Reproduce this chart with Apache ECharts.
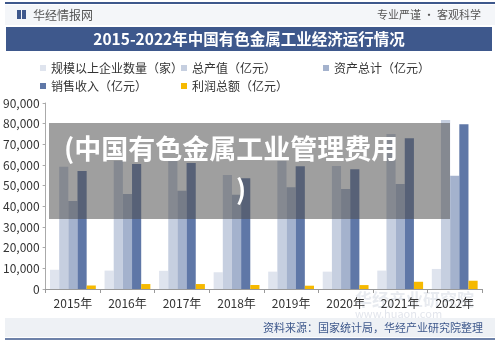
<!DOCTYPE html>
<html>
<head>
<meta charset="utf-8">
<script src="https://cdn.jsdelivr.net/npm/echarts@6/dist/echarts.min.js"></script>
<style>
  html, body { margin: 0; padding: 0; background: #ffffff; }
  #chart { width: 500px; height: 344px; }
</style>
</head>
<body>
<div id="chart"></div>
<script>
const years = ['2015年', '2016年', '2017年', '2018年', '2019年', '2020年', '2021年', '2022年']
const seriesNames = ['规模以上企业数量（家）', '总产值（亿元）', '资产总计（亿元）', '销售收入（亿元）', '利润总额（亿元）']
const companyCount = [9300, 8900, 8800, 8100, 8400, 8400, 8900, 9700]
const outputValue = [59200, 62000, 62500, 55200, 62000, 59500, 75000, 81800]
const totalAssets = [42600, 46000, 47600, 45600, 49200, 48400, 50800, 54800]
const salesRevenue = [57100, 60500, 61000, 53600, 59400, 57900, 72900, 79700]
const totalProfit = [1700, 2400, 2400, 1950, 1600, 1900, 3500, 4000]

const colors = ['#dfe4ee', '#c6cfe0', '#a4b2cd', '#5f77a7', '#f6b900']
const navy = '#3e588c'
const font = '"Noto Sans CJK SC", "Noto Sans", sans-serif'

const chart = echarts.init(document.getElementById('chart'))

const legendPos = [
  [40, 62], [181, 62], [323, 62],
  [40, 80], [181, 80],
]

chart.setOption({
  animation: false,
  textStyle: { fontFamily: font },
  legend: seriesNames.map((name, i) => ({
    data: [name],
    left: legendPos[i][0],
    top: legendPos[i][1],
    icon: 'rect',
    itemWidth: 6,
    itemHeight: 6,
    itemGap: 0,
    padding: 0,
    textStyle: { color: '#333', fontSize: 12, padding: [0, 0, 0, 0] },
  })),
  grid: { left: 42, right: 18, top: 103, bottom: 55 },
  xAxis: {
    type: 'category',
    data: years,
    axisLine: { lineStyle: { color: '#999' } },
    axisTick: { show: true, length: 4, lineStyle: { color: '#999' } },
    axisLabel: { color: '#333', fontSize: 12, margin: 8 },
  },
  yAxis: {
    type: 'value',
    min: 0,
    max: 90000,
    interval: 10000,
    splitLine: { show: false },
    axisLine: { show: true, lineStyle: { color: '#aaa' } },
    axisTick: { show: true, length: 3, lineStyle: { color: '#aaa' } },
    axisLabel: { color: '#333', fontSize: 12, margin: 6 },
  },
  series: [companyCount, outputValue, totalAssets, salesRevenue, totalProfit].map((values, i) => ({
    name: seriesNames[i],
    type: 'bar',
    data: values,
    barGap: '0%',
    barCategoryGap: '16%',
    itemStyle: { color: colors[i] },
  })),
  graphic: [
    { type: 'rect', shape: { x: 5, y: 5, width: 490, height: 20 }, style: { fill: '#f4f6f9' }, z: -10 },
    { type: 'line', shape: { x1: 5, y1: 3, x2: 495, y2: 3 }, style: { stroke: navy, lineWidth: 2 } },
    { type: 'rect', shape: { x: 17, y: 10, width: 4, height: 9 }, style: { fill: navy } },
    { type: 'rect', shape: { x: 22, y: 10, width: 4, height: 9 }, style: { fill: navy } },
    { type: 'text', x: 33, y: 15, style: { text: '华经情报网', fill: '#555', font: '12px ' + font, verticalAlign: 'middle' } },
    { type: 'text', x: 481, y: 15, style: { text: '专业严谨 • 客观科学', fill: '#555', font: '11px ' + font, align: 'right', verticalAlign: 'middle' } },
    { type: 'rect', shape: { x: 6, y: 27, width: 486, height: 24 }, style: { fill: navy } },
    { type: 'text', x: 249, y: 39.5, style: { text: '2015-2022年中国有色金属工业经济运行情况', fill: '#fff', font: 'bold 15.5px ' + font, align: 'center', verticalAlign: 'middle' } },
    { type: 'text', x: 355, y: 300, z: -5, style: { text: '华经产业研究院', fill: 'rgba(190,198,212,0.35)', font: 'bold 17px ' + font, verticalAlign: 'middle' } },
    { type: 'text', x: 355, y: 314, z: -5, style: { text: 'www.huaon.com', fill: 'rgba(190,198,212,0.45)', font: '11px ' + font, verticalAlign: 'middle' } },
    { type: 'rect', shape: { x: 5, y: 318, width: 490, height: 19 }, style: { fill: '#eef1f5' }, z: -10 },
    { type: 'text', x: 483, y: 328, style: { text: '资料来源：国家统计局，华经产业研究院整理', fill: navy, font: '11px ' + font, align: 'right', verticalAlign: 'middle' } },
    { type: 'line', shape: { x1: 5, y1: 339, x2: 495, y2: 339 }, style: { stroke: navy, lineWidth: 1.5 } },
    // dark caption box laid over the plot
    { type: 'rect', z: 100, shape: { x: 49, y: 123, width: 401, height: 96 }, style: { fill: 'rgba(80,80,80,0.55)' } },
    { type: 'text', z: 101, x: 64, y: 149, style: { text: '(中国有色金属工业管理费用', fill: '#fff', font: 'bold 27px ' + font, verticalAlign: 'middle' } },
    { type: 'text', z: 101, x: 236, y: 190, style: { text: ')', fill: '#fff', font: 'bold 27px ' + font, verticalAlign: 'middle' } },
  ],
})
</script>
</body>
</html>
